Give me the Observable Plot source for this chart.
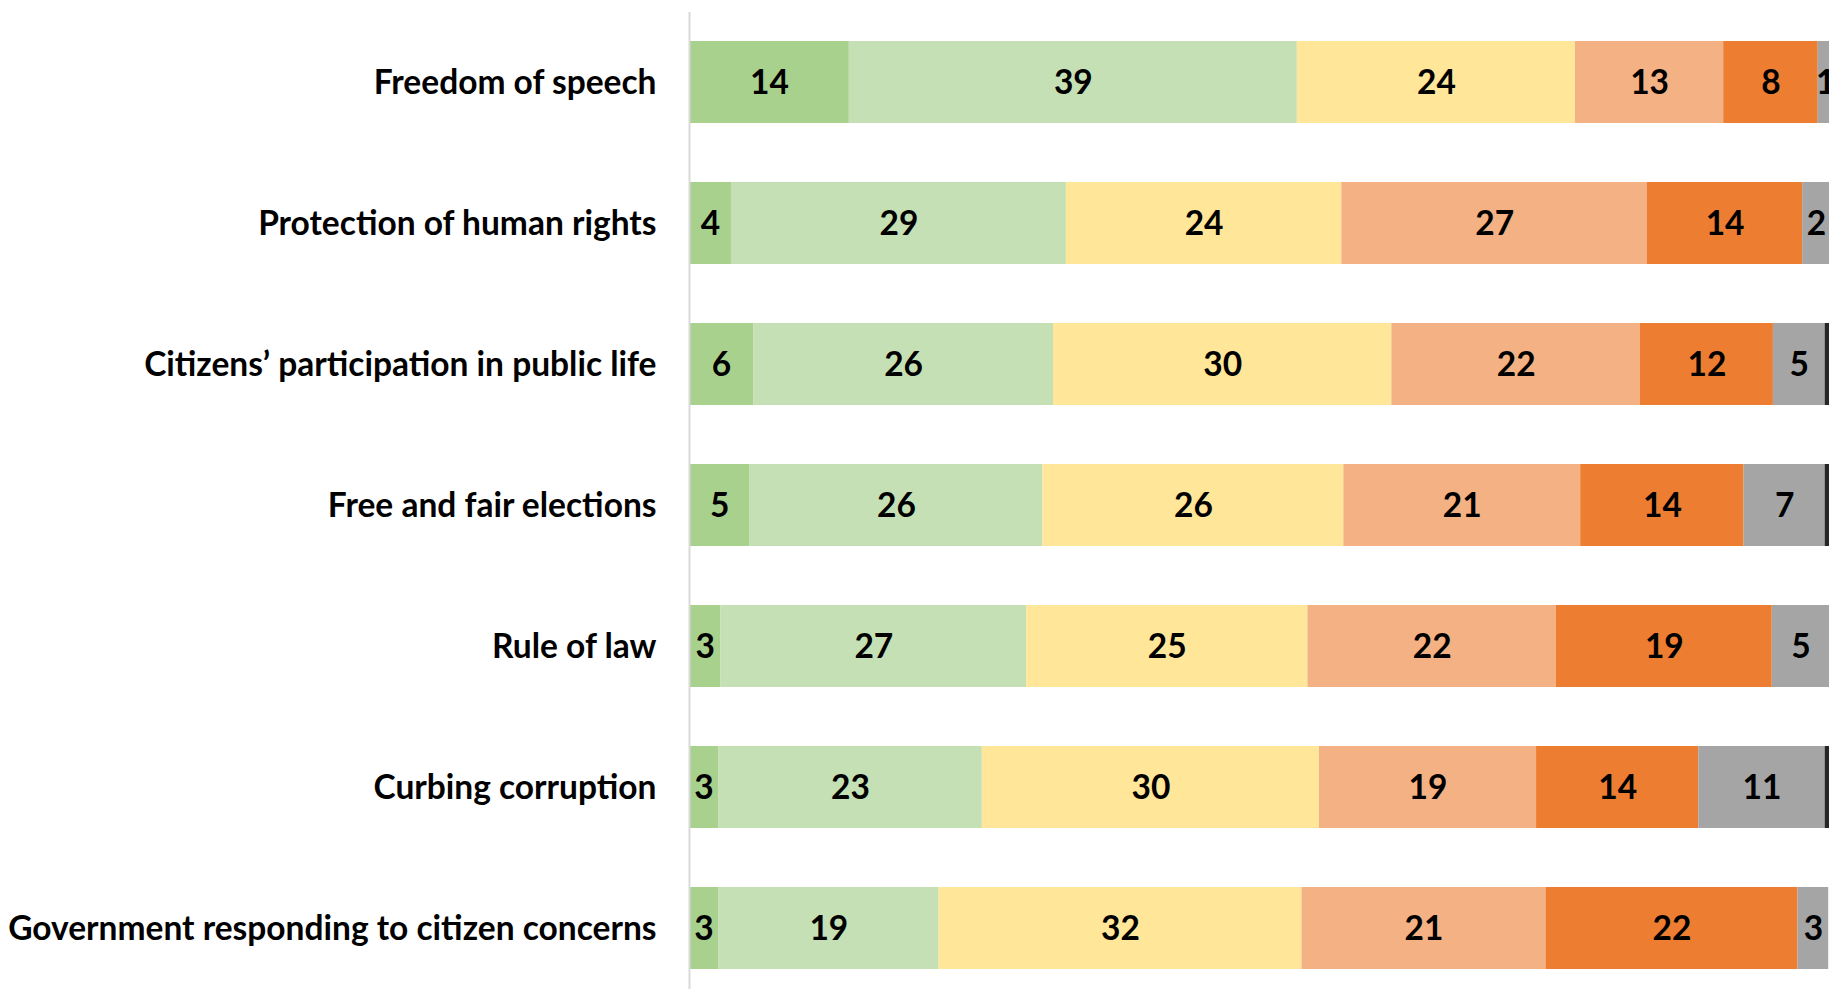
<!DOCTYPE html>
<html>
<head>
<meta charset="utf-8">
<script src="https://cdn.jsdelivr.net/npm/d3@7"></script>
<script src="https://cdn.jsdelivr.net/npm/@observablehq/plot@0.6"></script>
<style>
  html, body { margin: 0; padding: 0; background: #fff; overflow: hidden; width: 1829px; height: 989px; }
  #chart svg { display: block; }
</style>
</head>
<body>
<div id="chart"></div>
<script>
const categories = [
  "Freedom of speech",
  "Protection of human rights",
  "Citizens’ participation in public life",
  "Free and fair elections",
  "Rule of law",
  "Curbing corruption",
  "Government responding to citizen concerns"
];
const seriesNames = ["Very good", "Fairly good", "Neither good nor bad", "Fairly bad", "Very bad", "Don't know", "Refused"];
const seriesColors = ["#A9D18E", "#C5E0B4", "#FFE699", "#F4B183", "#ED7D31", "#A5A5A5", "#262626"];

const veryGood   = [14.05, 3.69, 5.64, 5.33, 2.77, 2.56, 2.56];
const fairlyGood = [39.38, 29.44, 26.36, 25.74, 26.87, 23.18, 19.38];
const neither    = [24.45, 24.21, 29.74, 26.45, 24.72, 29.64, 31.9];
const fairlyBad  = [13.03, 26.87, 21.85, 20.82, 21.85, 19.08, 21.45];
const veryBad    = [8.31, 13.64, 11.69, 14.36, 18.97, 14.26, 22.15];
const dontKnow   = [1.3, 2.45, 4.55, 7.13, 5.05, 11.11, 2.7];
const refused    = [0, 0, 1, 1, 0, 1, 0];

const seriesValues = [veryGood, fairlyGood, neither, fairlyBad, veryBad, dontKnow, refused];

const data = [];
seriesNames.forEach((s, si) => {
  categories.forEach((c, ci) => {
    const v = seriesValues[si][ci];
    if (v > 0) data.push({category: c, series: s, value: v, labeled: s !== "Refused"});
  });
});

const font = "Lato, 'Open Sans', sans-serif";
const fs = 33.5;

const chart = Plot.plot({
  width: 1829,
  height: 999,
  marginLeft: 689,
  marginRight: 0,
  marginTop: 12,
  marginBottom: 0,
  style: {fontFamily: font, background: "#fff"},
  x: {domain: [0, 100.21], axis: null},
  y: {domain: categories, paddingInner: 0.415, paddingOuter: 0.2075, label: null, tickSize: 0, tickPadding: 33},
  color: {domain: seriesNames, range: seriesColors},
  marks: [
    Plot.barX(data, Plot.stackX({x: "value", y: "category", fill: "series", order: null, clip: true})),
    Plot.text(data.filter(d => d.labeled), Plot.stackX({
      x: "value", y: "category", z: "series", order: null,
      text: d => String(Math.round(d.value)),
      fill: "#000", fontSize: fs, fontWeight: "bold", fontFamily: font, dy: 1
    })),
    Plot.ruleX([0], {stroke: "#D9D9D9", strokeWidth: 2}),
    Plot.axisY({tickSize: 0, tickPadding: 33, fontSize: fs, fontWeight: "bold", fontFamily: font, fill: "#000", label: null, dy: 1})
  ]
});
chart.querySelectorAll("text").forEach(t => t.setAttribute("fill", "#000"));
document.getElementById("chart").appendChild(chart);
</script>
</body>
</html>
